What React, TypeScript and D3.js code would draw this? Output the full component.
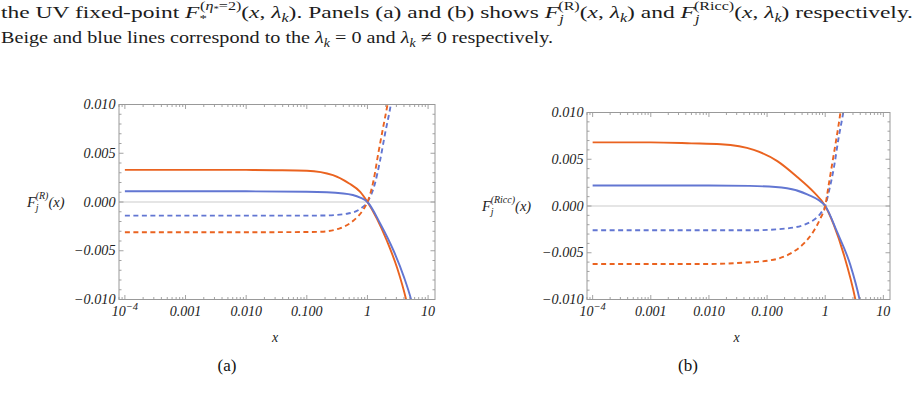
import React from 'react';
import * as d3 from 'd3';

// ---------- tick data ----------
const xMajorTicks = [1e-4, 1e-3, 1e-2, 1e-1, 1, 10];
const xTickLabels = ['10', '0.001', '0.010', '0.100', '1', '10'];
const yMajorTicks = [-0.01, -0.005, 0, 0.005, 0.01];
const yTickLabels = ['−0.010', '−0.005', '0.000', '0.005', '0.010'];

// ---------- panel (a): F_j^(R) ----------
const xA_orangeSolid = [1e-4, 1e-3, 0.01, 0.03, 0.1, 0.27, 0.5, 0.76, 1, 1.43, 2.1, 3.1, 4.3, 5.2];
const yA_orangeSolid = [0.0033, 0.0033, 0.00329, 0.00326, 0.0032, 0.00275, 0.0019, 0.00103, 0, -0.0017, -0.0040, -0.0068, -0.0099, -0.0122];
const xA_blueSolid = [1e-4, 1e-3, 0.01, 0.1, 0.4, 0.76, 1, 1.62, 2.7, 4.0, 5.25, 6.2];
const yA_blueSolid = [0.0011, 0.0011, 0.0011, 0.00105, 0.00087, 0.00045, 0, -0.0022, -0.005, -0.0077, -0.01, -0.0118];
const xA_blueDashed = [1e-4, 1e-3, 0.01, 0.1, 0.21, 0.46, 0.76, 1, 1.33, 1.62, 1.95, 2.43, 2.8];
const yA_blueDashed = [-0.0014, -0.0014, -0.0014, -0.0014, -0.00138, -0.0012, -0.0007, 0, 0.0019, 0.0043, 0.007, 0.01, 0.0125];
const xA_orangeDashed = [1e-4, 1e-3, 0.01, 0.1, 0.17, 0.35, 0.59, 0.87, 1, 1.26, 1.51, 1.82, 2.14, 2.5];
const yA_orangeDashed = [-0.0031, -0.0031, -0.0031, -0.00308, -0.00305, -0.0027, -0.0019, -0.0007, 0, 0.0022, 0.005, 0.0077, 0.01, 0.0128];

// ---------- panel (b): F_j^(Ricc) ----------
const xB_orangeSolid = [1e-4, 1e-3, 0.005, 0.016, 0.059, 0.15, 0.33, 0.63, 1, 1.4, 2.09, 3.3, 4];
const yB_orangeSolid = [0.0068, 0.0068, 0.0067, 0.0066, 0.006, 0.0048, 0.0031, 0.0015, 0, -0.002, -0.0052, -0.01, -0.0128];
const xB_blueSolid = [1e-4, 1e-3, 0.01, 0.05, 0.22, 0.49, 1, 1.58, 2.7, 3.9, 4.6];
const yB_blueSolid = [0.0022, 0.0022, 0.0022, 0.00215, 0.0019, 0.00125, 0, -0.0027, -0.0063, -0.01, -0.0122];
const xB_blueDashed = [1e-4, 1e-3, 0.01, 0.05, 0.22, 0.56, 0.83, 1, 1.15, 1.4, 1.7, 2.04, 2.3];
const yB_blueDashed = [-0.0026, -0.0026, -0.0026, -0.0026, -0.0024, -0.0017, -0.0008, 0, 0.0015, 0.004, 0.0073, 0.01, 0.0122];
const xB_orangeDashed = [1e-4, 1e-3, 0.01, 0.03, 0.115, 0.25, 0.43, 0.63, 0.83, 1, 1.15, 1.4, 1.7, 2.0];
const yB_orangeDashed = [-0.0062, -0.0062, -0.0062, -0.0061, -0.0058, -0.0051, -0.004, -0.0027, -0.0013, 0, 0.0023, 0.0055, 0.0087, 0.0118];

const ORANGE = '#EA6320';
const BLUE = '#6276D2';
const SERIF = 'Liberation Serif';

type Series = { xs: number[]; ys: number[]; color: string; dashed: boolean };

function Panel(props: {
  id: string; L: number; R: number; T: number; B: number; series: Series[];
  ylabel: React.ReactNode;
}) {
  const { id, L, R, T, B, series } = props;
  const x = d3.scaleLog().domain([8e-5, 13]).range([L, R]);
  const y = d3.scaleLinear().domain([-0.01, 0.01]).range([B, T]);

  const xMinor: number[] = [];
  for (let d = -5; d <= 1; d++) {
    for (let k = 1; k <= 9; k++) {
      const v = k * Math.pow(10, d);
      if (v >= 8e-5 && v <= 13) xMinor.push(v);
    }
  }
  const yMinor = d3.range(-10, 11).map((i) => i * 0.001);

  const tickColor = '#8c8c8c';
  const lines: React.ReactNode[] = [];
  xMinor.forEach((v, i) => {
    const px = x(v);
    const major = xMajorTicks.some((m) => Math.abs(m - v) / m < 1e-6);
    const len = major ? 4.5 : 2.5;
    lines.push(<line key={'xb' + i} x1={px} x2={px} y1={B} y2={B - len} stroke={tickColor} strokeWidth={0.8} />);
    lines.push(<line key={'xt' + i} x1={px} x2={px} y1={T} y2={T + len} stroke={tickColor} strokeWidth={0.8} />);
  });
  yMinor.forEach((v, i) => {
    const py = y(v);
    const major = i % 5 === 0;
    const len = major ? 4.5 : 2.5;
    lines.push(<line key={'yl' + i} x1={L} x2={L + len} y1={py} y2={py} stroke={tickColor} strokeWidth={0.8} />);
    lines.push(<line key={'yr' + i} x1={R} x2={R - len} y1={py} y2={py} stroke={tickColor} strokeWidth={0.8} />);
  });

  const mkLine = (s: Series) =>
    d3.line<number>()
      .x((_, i) => x(s.xs[i]))
      .y((d) => y(d))
      .curve(d3.curveMonotoneX)(s.ys) || '';

  return (
    <g>
      <defs>
        <clipPath id={id}>
          <rect x={L} y={T} width={R - L} height={B - T} />
        </clipPath>
      </defs>
      <line x1={L} x2={R} y1={y(0)} y2={y(0)} stroke="#dcdcdc" strokeWidth={1.4} />
      <g clipPath={`url(#${id})`}>
        {series.map((s, i) => (
          <path key={i} d={mkLine(s)} fill="none" stroke={s.color} strokeWidth={1.9}
            strokeDasharray={s.dashed ? '5,3.5' : undefined} />
        ))}
      </g>
      {lines}
      <rect x={L} y={T} width={R - L} height={B - T} fill="none" stroke="#999" strokeWidth={1} />
      {yMajorTicks.map((v, i) => (
        <text key={'yl' + i} x={L - 3.5} y={y(v) + 4.5} textAnchor="end" fontFamily={SERIF}
          fontStyle="italic" fontSize={14.2} fill="#222">{yTickLabels[i]}</text>
      ))}
      {xMajorTicks.map((v, i) => (
        <text key={'xl' + i} x={x(v)} y={316} textAnchor="middle" fontFamily={SERIF}
          fontStyle="italic" fontSize={14} fill="#222">
          {xTickLabels[i]}
          {i === 0 ? <tspan dy={-6} fontSize={10.5}>−4</tspan> : null}
        </text>
      ))}
      <text x={(L + R) / 2 - 2} y={342} textAnchor="middle" fontFamily={SERIF} fontStyle="italic"
        fontSize={14} fill="#222">x</text>
      {props.ylabel}
    </g>
  );
}

function YLabel(props: { x: number; y: number; sup: string }) {
  return (
    <text x={props.x} y={props.y} fontFamily={SERIF} fontStyle="italic" fontSize={14.5} fill="#222">
      F
      <tspan dy={4} fontSize={10}>j</tspan>
      <tspan dx={-3} dy={-12} fontSize={10}>{`(${props.sup})`}</tspan>
      <tspan dy={8} fontSize={14.5}>(x)</tspan>
    </text>
  );
}

export default function App() {
  const seriesA: Series[] = [
    { xs: xA_orangeSolid, ys: yA_orangeSolid, color: ORANGE, dashed: false },
    { xs: xA_blueSolid, ys: yA_blueSolid, color: BLUE, dashed: false },
    { xs: xA_blueDashed, ys: yA_blueDashed, color: BLUE, dashed: true },
    { xs: xA_orangeDashed, ys: yA_orangeDashed, color: ORANGE, dashed: true },
  ];
  const seriesB: Series[] = [
    { xs: xB_orangeSolid, ys: yB_orangeSolid, color: ORANGE, dashed: false },
    { xs: xB_blueSolid, ys: yB_blueSolid, color: BLUE, dashed: false },
    { xs: xB_blueDashed, ys: yB_blueDashed, color: BLUE, dashed: true },
    { xs: xB_orangeDashed, ys: yB_orangeDashed, color: ORANGE, dashed: true },
  ];
  const it = { fontStyle: 'italic' as const };
  return (
    <svg width={918} height={408} style={{ position: 'absolute', left: 0, top: 0, background: '#fff' }}>
      <rect x={0} y={0} width={918} height={408} fill="#fff" />
      <text x={1} y={18} fontFamily={SERIF} fontSize={17.5} fill="#1c1c1c" textLength={912} lengthAdjust="spacingAndGlyphs">
        {'the UV fixed-point '}
        <tspan {...it}>F</tspan>
        <tspan dy={4} fontSize={11}>*</tspan>
        <tspan dx={-5} dy={-12} fontSize={12}>(</tspan>
        <tspan fontSize={12} {...it}>η</tspan>
        <tspan fontSize={8} dy={2}>*</tspan>
        <tspan fontSize={12} dy={-2}>=2)</tspan>
        <tspan dy={8}>(</tspan>
        <tspan {...it}>x</tspan>
        {', '}
        <tspan {...it}>λ</tspan>
        <tspan dy={4} fontSize={12} {...it}>k</tspan>
        <tspan dy={-4}>{'). Panels (a) and (b) shows '}</tspan>
        <tspan {...it}>F</tspan>
        <tspan dy={5} fontSize={12} {...it}>j</tspan>
        <tspan dx={-4} dy={-13} fontSize={12}>(R)</tspan>
        <tspan dy={8}>(</tspan>
        <tspan {...it}>x</tspan>
        {', '}
        <tspan {...it}>λ</tspan>
        <tspan dy={4} fontSize={12} {...it}>k</tspan>
        <tspan dy={-4}>{') and '}</tspan>
        <tspan {...it}>F</tspan>
        <tspan dy={5} fontSize={12} {...it}>j</tspan>
        <tspan dx={-4} dy={-13} fontSize={12}>(Ricc)</tspan>
        <tspan dy={8}>(</tspan>
        <tspan {...it}>x</tspan>
        {', '}
        <tspan {...it}>λ</tspan>
        <tspan dy={4} fontSize={12} {...it}>k</tspan>
        <tspan dy={-4}>{') respectively.'}</tspan>
      </text>
      <text x={1} y={43} fontFamily={SERIF} fontSize={17.5} fill="#1c1c1c" textLength={552} lengthAdjust="spacingAndGlyphs">
        {'Beige and blue lines correspond to the '}
        <tspan {...it}>λ</tspan>
        <tspan dy={4} fontSize={12} {...it}>k</tspan>
        <tspan dy={-4}>{' = 0 and '}</tspan>
        <tspan {...it}>λ</tspan>
        <tspan dy={4} fontSize={12} {...it}>k</tspan>
        <tspan dy={-4}>{' ≠ 0 respectively.'}</tspan>
      </text>

      <Panel id="clipA" L={119} R={435} T={104.5} B={299.5} series={seriesA}
        ylabel={<YLabel x={27} y={207} sup="R" />} />
      <Panel id="clipB" L={587} R={890} T={112.5} B={299.5} series={seriesB}
        ylabel={<YLabel x={482} y={211} sup="Ricc" />} />

      <text x={227} y={371} textAnchor="middle" fontFamily={SERIF} fontSize={17} fill="#111">(a)</text>
      <text x={688} y={371} textAnchor="middle" fontFamily={SERIF} fontSize={17} fill="#111">(b)</text>
    </svg>
  );
}
